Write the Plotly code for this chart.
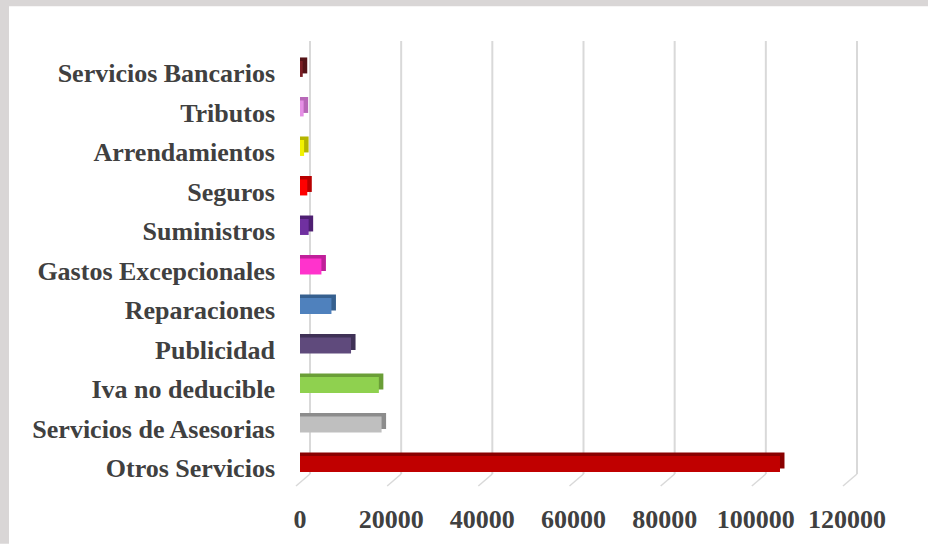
import plotly.graph_objects as go

categories = ["Otros Servicios", "Servicios de Asesorias", "Iva no deducible", "Publicidad",
              "Reparaciones", "Gastos Excepcionales", "Suministros", "Seguros",
              "Arrendamientos", "Tributos", "Servicios Bancarios"]
values = [105300, 17900, 17300, 11200, 6900, 4700, 1900, 1600, 900, 800, 600]
front_colors = ["#C00000", "#BFBFBF", "#8FD14F", "#5F4A7C", "#4F81BD", "#FF33CC",
                "#7030A0", "#FF0000", "#F2F200", "#E58FE5", "#7B1E24"]
side_colors = ["#8A0000", "#8C8C8C", "#6A9E37", "#3F3156", "#36608F", "#C0209A",
               "#4E1F72", "#B80000", "#B5B500", "#B868B8", "#551418"]
tick_vals = [0, 20000, 40000, 60000, 80000, 100000, 120000]

W, H = 928, 546
L, R, T, B = 282, 58, 41, 58
plot_w = W - L - R
plot_h = H - T - B
zero_px = 300           # pixel x of value 0 on the bar plane
px_per_unit = 547 / 120000
x_min = -(zero_px - L) / px_per_unit
x_max = (W - R - zero_px) / px_per_unit
wall_shift = 10 / px_per_unit  # back wall sits 10px to the right
depth_units = 4.5 / px_per_unit

cat_px = 39.6
y_lo = -(H - B - 470) / cat_px
y_hi = 10 + (73 - T) / cat_px
bar_w = 16 / cat_px
front_off = (4 / cat_px) - bar_w / 2
depth_off = front_off + 3.5 / cat_px

font_family = "Liberation Serif"
txt_col = "#404040"
grid_col = "#D9D9D9"

fig = go.Figure()
# depth (top/side faces)
fig.add_trace(go.Bar(
    y=categories, x=[v + depth_units for v in values], orientation="h",
    width=bar_w, offset=depth_off, marker=dict(color=side_colors, line=dict(width=0)),
    hoverinfo="skip", showlegend=False))
# front faces
fig.add_trace(go.Bar(
    y=categories, x=values, orientation="h",
    width=bar_w, offset=front_off, marker=dict(color=front_colors, line=dict(width=0)),
    showlegend=False))

wall_bottom = 12 / plot_h

shapes = []
# gray border strips (top and left)
shapes.append(dict(type="rect", xref="paper", yref="paper",
                   x0=-L / plot_w, x1=(9 - L) / plot_w, y0=-B / plot_h, y1=(H - T) / plot_h + 0.01,
                   fillcolor="#D9D6D6", line=dict(width=0), layer="below"))
shapes.append(dict(type="rect", xref="paper", yref="paper",
                   x0=-L / plot_w, x1=(W - L) / plot_w, y0=(H - B - 6) / plot_h, y1=(H - B) / plot_h + 0.01,
                   fillcolor="#D9D6D6", line=dict(width=0), layer="below"))
# back-wall gridlines and their floor diagonals
for t in tick_vals:
    xw = t + wall_shift
    shapes.append(dict(type="line", xref="x", yref="paper",
                       x0=xw, y0=wall_bottom, x1=xw, y1=1,
                       line=dict(color=grid_col, width=2), layer="below"))
    shapes.append(dict(type="line", xref="x", yref="paper",
                       x0=xw, y0=wall_bottom, x1=xw - 14 / px_per_unit, y1=0,
                       line=dict(color=grid_col, width=1.5), layer="below"))

fig.update_layout(
    width=W, height=H,
    margin=dict(l=L, r=R, t=T, b=B),
    paper_bgcolor="white", plot_bgcolor="rgba(0,0,0,0)",
    barmode="overlay",
    shapes=shapes,
    xaxis=dict(range=[x_min, x_max], tickvals=tick_vals, ticktext=[str(v) for v in tick_vals],
               showgrid=False, zeroline=False, showline=False,
               ticks="outside", ticklen=10, tickcolor="rgba(0,0,0,0)",
               tickfont=dict(family=font_family, size=26, color=txt_col, weight="bold")),
    yaxis=dict(range=[y_lo, y_hi], showgrid=False, zeroline=False, showline=False,
               ticks="", ticklabelstandoff=6,
               tickfont=dict(family=font_family, size=26, color=txt_col, weight="bold")),
)

fig.write_html("out.html", config={"displayModeBar": False},
               post_script="document.body.style.margin='0';document.body.style.padding='0';")
